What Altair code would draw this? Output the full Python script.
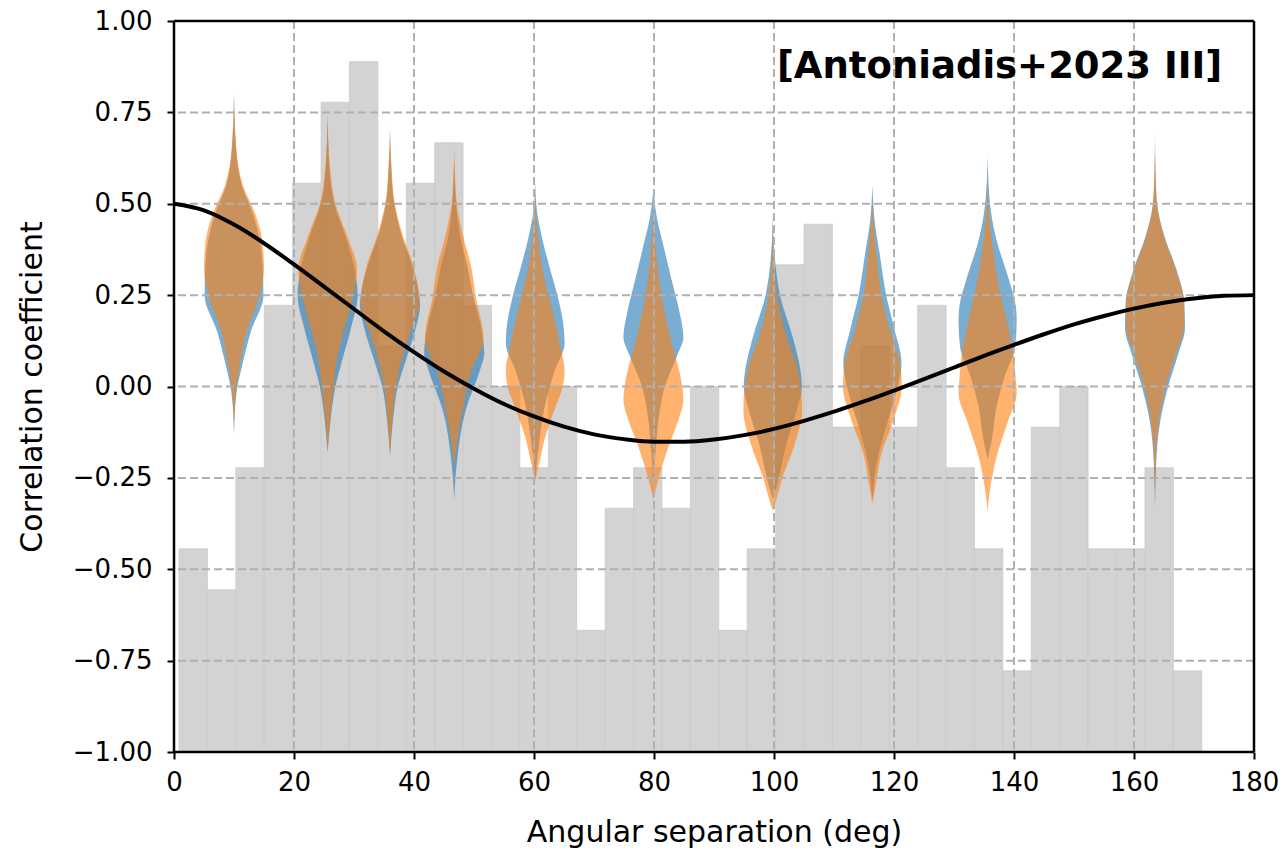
import altair as alt
import pandas as pd

# ---------------- data ----------------
bin_edges = [0.83, 5.57, 10.30, 15.04, 19.77, 24.51, 29.24, 33.98, 38.71, 43.45,
             48.18, 52.92, 57.65, 62.39, 67.12, 71.86, 76.59, 81.33, 86.06, 90.80,
             95.53, 100.27, 105.00, 109.74, 114.47, 119.21, 123.94, 128.68, 133.41,
             138.15, 142.88, 147.62, 152.35, 157.09, 161.82, 166.56, 171.29]
bar_tops = [-0.444, -0.556, -0.222, 0.222, 0.556, 0.778, 0.889, 0.111, 0.556, 0.667,
            0.222, 0.0, -0.222, 0.0, -0.667, -0.333, -0.222, -0.333, 0.0, -0.667,
            -0.444, 0.333, 0.444, -0.111, 0.111, -0.111, 0.222, -0.222, -0.444, -0.778,
            -0.111, 0.0, -0.444, -0.444, -0.222, -0.778]

hd_angle = [0, 5, 10, 15, 20, 25, 30, 35, 40, 45, 50, 55, 60, 65, 70, 75, 80, 85, 90,
            95, 100, 105, 110, 115, 120, 125, 130, 135, 140, 145, 150, 155, 160, 165,
            170, 175, 180]
hd_corr = [0.500, 0.482, 0.443, 0.392, 0.334, 0.273, 0.212, 0.151, 0.094, 0.041,
           -0.006, -0.048, -0.082, -0.110, -0.131, -0.144, -0.151, -0.151, -0.145,
           -0.133, -0.116, -0.094, -0.069, -0.041, -0.011, 0.020, 0.052, 0.084,
           0.114, 0.143, 0.170, 0.193, 0.213, 0.229, 0.241, 0.248, 0.250]

violin_centers = [10.0, 25.6, 36.0, 46.7, 60.2, 79.9, 99.8, 116.4, 135.6, 163.5]

# (correlation, half-width in deg), bottom to top
blue_profiles = [
    [(-0.13, 0), (-0.02, 0.4), (0.06, 1.4), (0.15, 2.8), (0.25, 4.9), (0.32, 4.8), (0.40, 4.3), (0.47, 3.2), (0.55, 1.3), (0.65, 0.35), (0.80, 0)],
    [(-0.18, 0), (-0.09, 0.5), (0.0, 1.3), (0.07, 2.4), (0.16, 3.9), (0.25, 5.0), (0.32, 4.5), (0.41, 3.0), (0.50, 1.1), (0.60, 0.3), (0.74, 0)],
    [(-0.19, 0), (-0.09, 0.5), (0.0, 1.3), (0.07, 2.6), (0.16, 4.3), (0.22, 5.0), (0.33, 3.7), (0.41, 2.0), (0.50, 0.7), (0.60, 0.2), (0.71, 0)],
    [(-0.31, 0), (-0.20, 0.5), (-0.065, 1.9), (0.045, 4.3), (0.09, 5.0), (0.15, 4.6), (0.245, 3.2), (0.33, 2.2), (0.41, 1.0), (0.50, 0.3), (0.62, 0)],
    [(-0.25, 0), (-0.136, 0.8), (-0.045, 1.7), (0.045, 3.3), (0.119, 4.9), (0.18, 4.6), (0.25, 3.7), (0.32, 2.5), (0.41, 1.1), (0.48, 0.3), (0.56, 0)],
    [(-0.28, 0), (-0.15, 0.5), (-0.073, 1.0), (0.0, 1.9), (0.082, 3.9), (0.136, 5.0), (0.20, 4.4), (0.291, 3.05), (0.383, 1.7), (0.46, 0.6), (0.54, 0)],
    [(-0.31, 0), (-0.25, 1.0), (-0.155, 2.3), (-0.064, 4.0), (0.0, 4.85), (0.045, 4.6), (0.136, 3.3), (0.25, 1.2), (0.36, 0.3), (0.47, 0)],
    [(-0.31, 0), (-0.22, 0.6), (-0.137, 1.8), (-0.04, 3.6), (0.064, 4.85), (0.155, 3.7), (0.25, 2.3), (0.365, 1.2), (0.45, 0.4), (0.55, 0)],
    [(-0.20, 0), (-0.146, 0.7), (-0.055, 1.5), (0.03, 2.9), (0.109, 4.6), (0.18, 4.85), (0.22, 4.7), (0.29, 3.6), (0.40, 1.5), (0.50, 0.4), (0.63, 0)],
    [(-0.33, 0), (-0.18, 0.3), (-0.092, 0.9), (0.0, 2.2), (0.09, 3.9), (0.16, 5.0), (0.228, 4.9), (0.319, 3.6), (0.41, 1.6), (0.50, 0.35), (0.58, 0.1), (0.69, 0)],
]
orange_profiles = [
    [(-0.13, 0), (-0.02, 0.3), (0.06, 1.0), (0.15, 2.1), (0.24, 4.1), (0.32, 5.0), (0.40, 4.7), (0.47, 3.6), (0.55, 1.5), (0.65, 0.4), (0.80, 0)],
    [(-0.18, 0), (-0.09, 0.4), (0.0, 1.0), (0.07, 1.5), (0.16, 2.8), (0.25, 4.3), (0.32, 4.9), (0.41, 3.3), (0.50, 1.3), (0.60, 0.4), (0.74, 0)],
    [(-0.19, 0), (-0.09, 0.4), (0.0, 1.0), (0.07, 1.9), (0.16, 3.6), (0.23, 4.9), (0.33, 3.9), (0.41, 2.2), (0.50, 0.8), (0.60, 0.25), (0.70, 0)],
    [(-0.22, 0), (-0.15, 0.5), (-0.065, 1.4), (0.045, 2.9), (0.13, 4.9), (0.245, 3.6), (0.33, 2.8), (0.41, 1.5), (0.50, 0.45), (0.58, 0.15), (0.65, 0)],
    [(-0.26, 0), (-0.20, 0.8), (-0.136, 1.7), (-0.064, 3.2), (0.0, 4.6), (0.045, 4.9), (0.108, 4.2), (0.18, 3.3), (0.25, 2.2), (0.32, 1.2), (0.41, 0.45), (0.52, 0)],
    [(-0.31, 0), (-0.237, 1.1), (-0.165, 2.5), (-0.09, 4.2), (-0.037, 5.0), (0.036, 4.4), (0.109, 3.2), (0.20, 1.9), (0.29, 0.95), (0.40, 0.3), (0.50, 0)],
    [(-0.34, 0), (-0.32, 0.4), (-0.245, 1.7), (-0.155, 3.7), (-0.064, 4.9), (0.045, 4.2), (0.136, 2.3), (0.25, 0.7), (0.35, 0.2), (0.45, 0)],
    [(-0.32, 0), (-0.275, 0.5), (-0.183, 1.5), (-0.092, 3.5), (0.0, 4.9), (0.064, 4.6), (0.155, 2.9), (0.25, 1.5), (0.365, 0.7), (0.45, 0.2), (0.52, 0)],
    [(-0.34, 0), (-0.283, 0.4), (-0.192, 1.5), (-0.10, 3.3), (-0.018, 4.85), (0.018, 4.7), (0.09, 4.3), (0.18, 3.2), (0.29, 1.7), (0.40, 0.7), (0.48, 0.2), (0.56, 0)],
    [(-0.32, 0), (-0.18, 0.2), (-0.092, 0.7), (0.0, 1.8), (0.09, 3.5), (0.164, 4.85), (0.228, 4.85), (0.319, 3.5), (0.41, 1.5), (0.50, 0.33), (0.58, 0.1), (0.67, 0)],
]

x_ticks = [0, 20, 40, 60, 80, 100, 120, 140, 160, 180]
y_ticks = [-1.0, -0.75, -0.5, -0.25, 0.0, 0.25, 0.5, 0.75, 1.0]
x_grid = [20, 40, 60, 80, 100, 120, 140, 160]
y_grid = [-0.75, -0.5, -0.25, 0.0, 0.25, 0.5, 0.75]
x_frame = [0, 180]
y_frame = [-1.0, 1.0]

label_text = ["[Antoniadis+2023 III]"]
label_x = [174.7]
label_y = [0.875]

# ---------------- tables ----------------
bars_df = pd.DataFrame({"x": bin_edges[:-1], "x2": bin_edges[1:],
                        "y": [-1.0] * len(bar_tops), "y2": bar_tops})
hd_df = pd.DataFrame({"x": hd_angle, "y": hd_corr})


def violin_table(profiles, name):
    rows = []
    for i, (c, prof) in enumerate(zip(violin_centers, profiles)):
        for (yv, hw) in prof:
            rows.append({"key": f"{name}{i}", "y": yv, "x": c - hw, "x2": c + hw})
    return pd.DataFrame(rows)


blue_df = violin_table(blue_profiles, "b")
orange_df = violin_table(orange_profiles, "o")

xs = alt.Scale(domain=[0, 180], nice=False, zero=False)
ys = alt.Scale(domain=[-1, 1], nice=False, zero=False)

FONT = "DejaVu Sans"

x_axis = alt.Axis(values=x_ticks, title="Angular separation (deg)", format="d",
                  titleY=80, titleBaseline="middle", labelPadding=10, labelFlush=False)
y_axis = alt.Axis(values=y_ticks, title="Correlation coefficient", format=".2f",
                  titleX=-142, titleBaseline="middle", labelPadding=15, labelFlush=False)


def X(field="x"):
    return alt.X(f"{field}:Q", scale=xs, axis=x_axis, stack=None)


def Y(field="y"):
    return alt.Y(f"{field}:Q", scale=ys, axis=y_axis, stack=None)


bars = alt.Chart(bars_df).mark_rect(color="#d3d3d3", stroke="#c8c8c8", strokeWidth=0.7).encode(
    x=X(), x2="x2:Q", y=Y(), y2="y2:Q",
)

blue = alt.Chart(blue_df).mark_area(orient="horizontal", color="#1f77b4", opacity=0.6,
                                    interpolate="monotone").encode(
    y=Y(), x=X(), x2="x2:Q", detail="key:N",
)
orange = alt.Chart(orange_df).mark_area(orient="horizontal", color="#ff7f0e", opacity=0.6,
                                        interpolate="monotone").encode(
    y=Y(), x=X(), x2="x2:Q", detail="key:N",
)

vgrid = alt.Chart(pd.DataFrame({"x": x_grid})).mark_rule(
    color="#b0b0b0", strokeWidth=2, strokeDash=[8, 4]).encode(x=X())
hgrid = alt.Chart(pd.DataFrame({"y": y_grid})).mark_rule(
    color="#b0b0b0", strokeWidth=2, strokeDash=[8, 4]).encode(y=Y())

curve = alt.Chart(hd_df).mark_line(color="black", strokeWidth=4, interpolate="monotone").encode(
    x=X(), y=Y(),
)

vframe = alt.Chart(pd.DataFrame({"x": x_frame})).mark_rule(
    color="black", strokeWidth=2.5).encode(x=X())
hframe = alt.Chart(pd.DataFrame({"y": y_frame})).mark_rule(
    color="black", strokeWidth=2.5).encode(y=Y())

label = alt.Chart(pd.DataFrame({"t": label_text, "x": label_x, "y": label_y})).mark_text(
    align="right", baseline="middle", fontSize=37, fontWeight="bold", font=FONT, color="black").encode(
    x=X(), y=Y(), text="t:N",
)

chart = alt.layer(bars, blue, orange, vgrid, hgrid, curve, vframe, hframe, label).properties(
    width=1080, height=731,
    autosize=alt.AutoSizeParams(type="none"),
    padding={"left": 174, "top": 21, "right": 34, "bottom": 101},
).configure_view(stroke=None).configure_axis(
    grid=False, domain=False,
    ticks=True, tickColor="black", tickWidth=2, tickSize=7,
    labelFont=FONT, labelFontSize=26, labelColor="black",
    titleFont=FONT, titleFontSize=30, titleFontWeight="normal", titleColor="black",
)

chart.save("out.html", embed_options={"renderer": "svg", "actions": False})
